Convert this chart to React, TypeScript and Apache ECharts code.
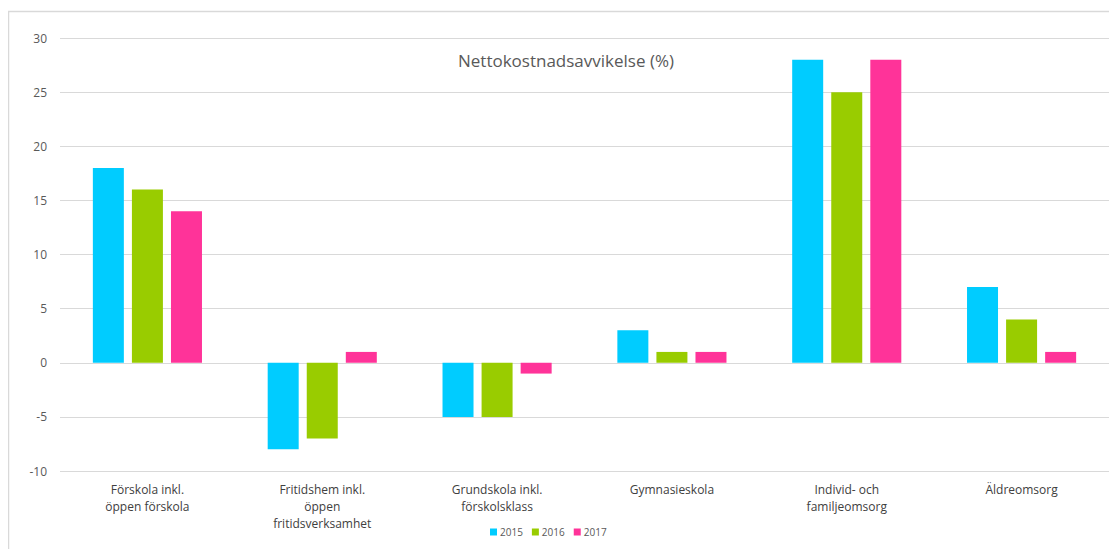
import React, { useEffect, useRef } from "react";
import * as echarts from "echarts";

const categories = [
  "Förskola inkl.\nöppen förskola",
  "Fritidshem inkl.\nöppen\nfritidsverksamhet",
  "Grundskola inkl.\nförskolsklass",
  "Gymnasieskola",
  "Individ- och\nfamiljeomsorg",
  "Äldreomsorg",
];
const values2015 = [18, -8, -5, 3, 28, 7];
const values2016 = [16, -7, -5, 1, 25, 4];
const values2017 = [14, 1, -1, 1, 28, 1];
const seriesNames = ["2015", "2016", "2017"];
const colors = ["#00CCFF", "#99CC00", "#FF3399"];
const titleText = "Nettokostnadsavvikelse (%)";

const FONT = "'Open Sans', 'Noto Sans', sans-serif";

export default function App() {
  const ref = useRef<HTMLDivElement>(null);
  useEffect(() => {
    if (!ref.current) return;
    const chart = echarts.init(ref.current, null, { renderer: "svg" });
    const data = [values2015, values2016, values2017];
    chart.setOption({
      animation: false,
      backgroundColor: "#ffffff",
      textStyle: { fontFamily: FONT },
      title: {
        text: titleText,
        left: 558,
        top: 44,
        padding: 0,
        textAlign: "center",
        textStyle: { fontFamily: FONT, fontSize: 17, fontWeight: "normal", color: "#595959" },
      },
      graphic: [
        {
          type: "rect",
          shape: { x: 0.5, y: 3.5, width: 1200, height: 700 },
          style: { fill: "none", stroke: "#d9d9d9", lineWidth: 1.5 },
          silent: true,
          z: -1,
        },
      ],
      legend: {
        data: seriesNames,
        left: 482,
        top: 519,
        padding: 0,
        itemWidth: 7,
        itemHeight: 7,
        itemGap: 9,
        icon: "rect",
        textStyle: { fontFamily: FONT, fontSize: 10, color: "#595959", padding: [0, 0, 0, -2] },
      },
      grid: { left: 52, right: 8, top: 30, height: 433, containLabel: false },
      xAxis: {
        type: "category",
        data: categories,
        axisLine: { show: false, onZero: false },
        axisTick: { show: false },
        axisLabel: {
          interval: 0,
          margin: 10,
          color: "#404040",
          fontSize: 12,
          lineHeight: 17,
          fontFamily: FONT,
          verticalAlign: "top",
        },
      },
      yAxis: {
        type: "value",
        min: -10,
        max: 30,
        interval: 5,
        axisLine: { show: false },
        axisTick: { show: false },
        splitLine: { lineStyle: { color: "#d9d9d9", width: 1 } },
        axisLabel: { color: "#595959", fontSize: 12, fontFamily: FONT, margin: 13 },
      },
      series: seriesNames.map((name, i) => ({
        name,
        type: "bar",
        data: data[i],
        barWidth: 31,
        barGap: "26%",
        itemStyle: { color: colors[i] },
      })),
    });
    return () => chart.dispose();
  }, []);
  return <div ref={ref} style={{ width: 1109, height: 541 }} />;
}
